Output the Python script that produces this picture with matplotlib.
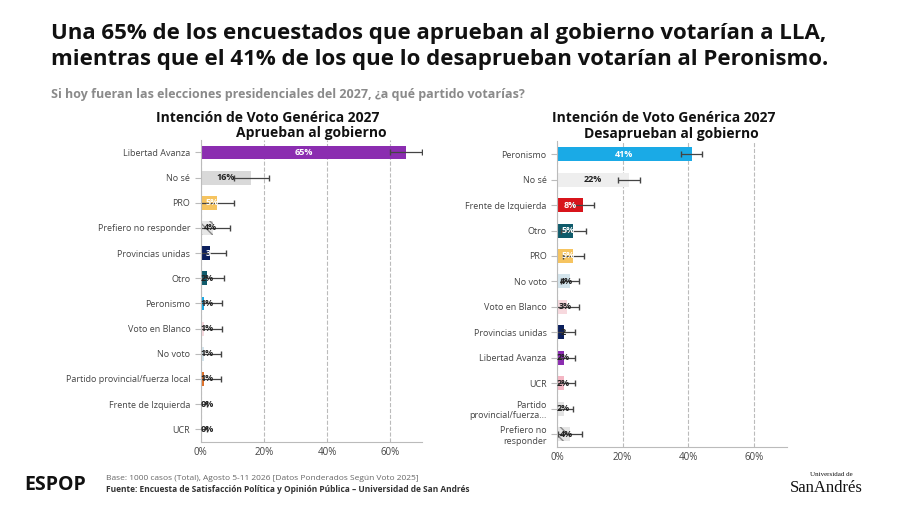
import matplotlib.pyplot as plt

# Aprueban al gobierno
cat_a = ['Libertad Avanza', 'No sé', 'PRO', 'Prefiero no responder', 'Provincias unidas', 'Otro',
         'Peronismo', 'Voto en Blanco', 'No voto', 'Partido provincial/fuerza local',
         'Frente de Izquierda', 'UCR']
val_a = [65, 16, 5, 4, 3, 2, 1, 1, 1, 1, 0, 0]
err_a = [5, 5.5, 5.5, 5.3, 5, 5.3, 5.7, 5.7, 5.5, 5.3, 2, 2]
lab_a = ['65%', '16%', '5%', '4%', '3', '2%', '1%', '1%', '1%', '1%', '0%', '0%']

# Desaprueban al gobierno
cat_d = ['Peronismo', 'No sé', 'Frente de Izquierda', 'Otro', 'PRO', 'No voto', 'Voto en Blanco',
         'Provincias unidas', 'Libertad Avanza', 'UCR', 'Partido\nprovincial/fuerza...',
         'Prefiero no\nresponder']
val_d = [41, 22, 8, 5, 5, 4, 3, 2, 2, 2, 2, 4]
err_d = [3.3, 3.4, 3.2, 3.7, 3.3, 2.8, 3.8, 3.6, 3.6, 3.6, 3, 3.6]
lab_d = ['41%', '22%', '8%', '5%', '5%', '4%', '3%', '2', '2%', '2%', '2%', '4%']

colors = {'Libertad Avanza': '#8B2DB0', 'No sé': '#d9d9d9', 'PRO': '#F6C460',
          'Prefiero no responder': '#e6e6e6', 'Provincias unidas': '#0B1F5C', 'Otro': '#0F5B6B',
          'Peronismo': '#1AAAE6', 'Voto en Blanco': '#F7D9DE', 'No voto': '#D3E4EC',
          'Partido provincial/fuerza local': '#E07028', 'Frente de Izquierda': '#D8141B',
          'UCR': '#F4B7C4', 'Partido\nprovincial/fuerza...': '#e3e3e3',
          'Prefiero no\nresponder': '#e6e6e6'}
hatched = {'Prefiero no responder', 'Prefiero no\nresponder'}
white_text = {'Libertad Avanza', 'Provincias unidas', 'Otro', 'Peronismo', 'Frente de Izquierda', 'PRO'}

plt.rcParams['font.family'] = ['Open Sans', 'DejaVu Sans']
fig = plt.figure(figsize=(9, 5.05), dpi=100)

fig.text(0.057, 0.955, 'Una 65% de los encuestados que aprueban al gobierno votarían a LLA,\n'
         'mientras que el 41% de los que lo desaprueban votarían al Peronismo.',
         fontsize=16, fontweight='bold', color='#111111', va='top', linespacing=1.3)
fig.text(0.057, 0.805, 'Si hoy fueran las elecciones presidenciales del 2027, ¿a qué partido votarías?',
         fontsize=9, fontweight='bold', color='#8a8a8a')


def draw(ax, cats, vals, errs, labs, title, no_se_col):
    for i, c in enumerate(cats):
        col = no_se_col if c == 'No sé' else colors[c]
        h = '\\\\\\' if c in hatched else None
        ax.barh(i, vals[i], height=0.55, color=col, hatch=h, edgecolor='#888888' if h else col, lw=0)
        ax.errorbar(vals[i], i, xerr=[[errs[i]], [errs[i]]], fmt='none', ecolor='#444444',
                    elinewidth=0.9, capsize=2.5)
        tc = 'white' if c in white_text and vals[i] >= 3 else '#222222'
        ax.text(vals[i] / 2 if vals[i] > 6 else max(vals[i] / 2 + 1, 2), i, labs[i],
                ha='center', va='center', fontsize=6.5, fontweight='bold', color=tc)
    ax.set_yticks(range(len(cats)))
    ax.set_yticklabels(cats, fontsize=6.5, color='#444444')
    ax.set_ylim(len(cats) - 0.5, -0.5)
    ax.set_xlim(0, 70)
    ax.set_xticks([0, 20, 40, 60])
    ax.set_xticklabels(['0%', '20%', '40%', '60%'], fontsize=7, color='#444444')
    ax.grid(axis='x', ls='--', color='#bbbbbb', lw=0.8)
    ax.set_axisbelow(True)
    for s in ['top', 'right']:
        ax.spines[s].set_visible(False)
    ax.spines['left'].set_color('#bbbbbb')
    ax.spines['bottom'].set_color('#bbbbbb')
    ax.tick_params(axis='y', length=4, color='#bbbbbb')
    ax.tick_params(axis='x', length=0)
    ax.set_title(title, fontsize=10, fontweight='bold', color='#111111', pad=2)


ax1 = fig.add_axes([0.223, 0.125, 0.246, 0.598])
draw(ax1, cat_a, val_a, err_a, lab_a, 'Aprueban al gobierno', '#d9d9d9')
fig.text(0.298, 0.758, 'Intención de Voto Genérica 2027', fontsize=10, fontweight='bold',
         ha='center', color='#111111')

ax2 = fig.add_axes([0.619, 0.115, 0.255, 0.605])
draw(ax2, cat_d, val_d, err_d, lab_d, 'Desaprueban al gobierno', '#eeeeee')
fig.text(0.738, 0.758, 'Intención de Voto Genérica 2027', fontsize=10, fontweight='bold',
         ha='center', color='#111111')

fig.text(0.027, 0.03, 'ESPOP', fontsize=14, fontweight='bold', color='#111111')
fig.text(0.118, 0.05, 'Base: 1000 casos (Total), Agosto 5-11 2026 [Datos Ponderados Según Voto 2025]',
         fontsize=6, color='#666666')
fig.text(0.118, 0.025, 'Fuente: Encuesta de Satisfacción Política y Opinión Pública – Universidad de San Andrés',
         fontsize=6, fontweight='bold', color='#333333')
fig.text(0.9, 0.058, 'Universidad de', fontsize=5, color='#111111', family='Liberation Serif')
fig.text(0.878, 0.025, 'SanAndrés', fontsize=12, color='#111111', family='Liberation Serif')

fig.savefig('out.png')
